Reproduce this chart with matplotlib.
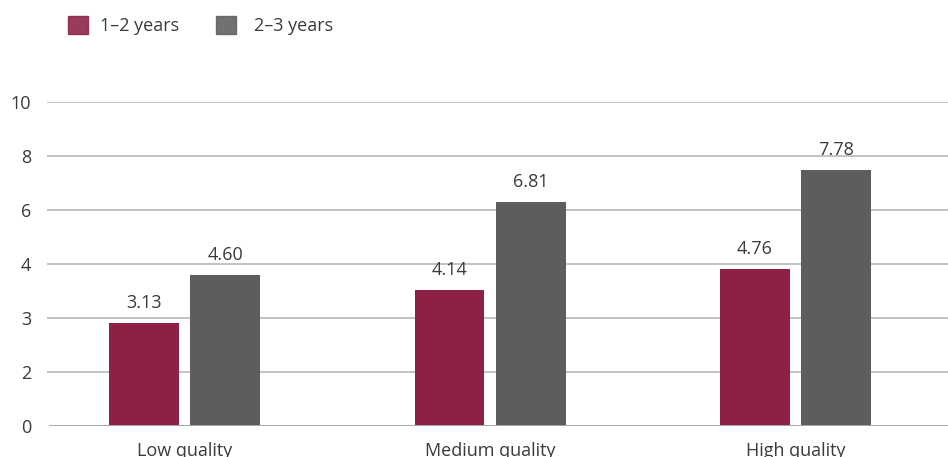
import matplotlib
matplotlib.use("Agg")
import matplotlib.pyplot as plt
from matplotlib.patches import Rectangle
import numpy as np

plt.rcParams['font.family'] = ['Open Sans', 'DejaVu Sans']

categories = ["Low quality", "Medium quality", "High quality"]
series_names = ["1–2 years", "2–3 years"]
values_1_2 = [3.13, 4.14, 4.76]
values_2_3 = [4.60, 6.81, 7.78]
tick_labels = ["0", "2", "3", "4", "6", "8", "10"]

colors = ["#8C2045", "#5E5D5B"]
text_color = "#3a3a3a"
grid_color = "#b8b8b8"
fs = 13

W, H = 948, 457
fig = plt.figure(figsize=(W / 100, H / 100), dpi=100)

left, right, bottom, top = 47, 948, 426, 102
ax = fig.add_axes([left / W, 1 - bottom / H, (right - left) / W, (bottom - top) / H])

y_top = 9.85
ax.set_ylim(0, y_top)
ax.set_xlim(-0.45, 2.499)

x = np.arange(len(categories))
width = 0.229
offset = 0.1326

for i, (vals, col) in enumerate(zip([values_1_2, values_2_3], colors)):
    pos = x + (offset if i else -offset)
    bars = ax.bar(pos, vals, width=width, color=col, zorder=3, label=series_names[i])
    for b, v in zip(bars, vals):
        ax.annotate(f"{v:.2f}", (b.get_x() + b.get_width() / 2, v),
                    xytext=(0, 8), textcoords="offset points", ha="center", va="bottom",
                    fontsize=fs, color=text_color)

ticks = np.linspace(0, y_top, len(tick_labels))
ax.set_yticks(ticks)
ax.set_yticklabels(tick_labels, fontsize=fs, color=text_color)
for t in ticks[1:]:
    ax.axhline(t, color=grid_color, lw=1.2, zorder=1)
ax.axhline(0, xmin=3 / (right - left), color="#a8a8a8", lw=1.4, zorder=4)

ax.set_xticks(x)
ax.set_xticklabels(categories, fontsize=fs, color=text_color)
ax.tick_params(axis="both", length=0)
ax.tick_params(axis="y", pad=11.5)
ax.tick_params(axis="x", pad=11.5)
for s in ax.spines.values():
    s.set_visible(False)

# legend drawn in figure pixel coordinates
def fx(px):
    return px / W

def fy(py):
    return 1 - py / H

for (sx, tx), name, col in zip([(68, 100), (216, 254)], series_names, colors):
    fig.patches.append(Rectangle((fx(sx), fy(34)), 20 / W, 18 / H, transform=fig.transFigure,
                                 color=col, alpha=0.88))
    fig.text(fx(tx), fy(26), name, fontsize=fs, color=text_color, va="center", ha="left")

fig.savefig("out.png", dpi=100)
